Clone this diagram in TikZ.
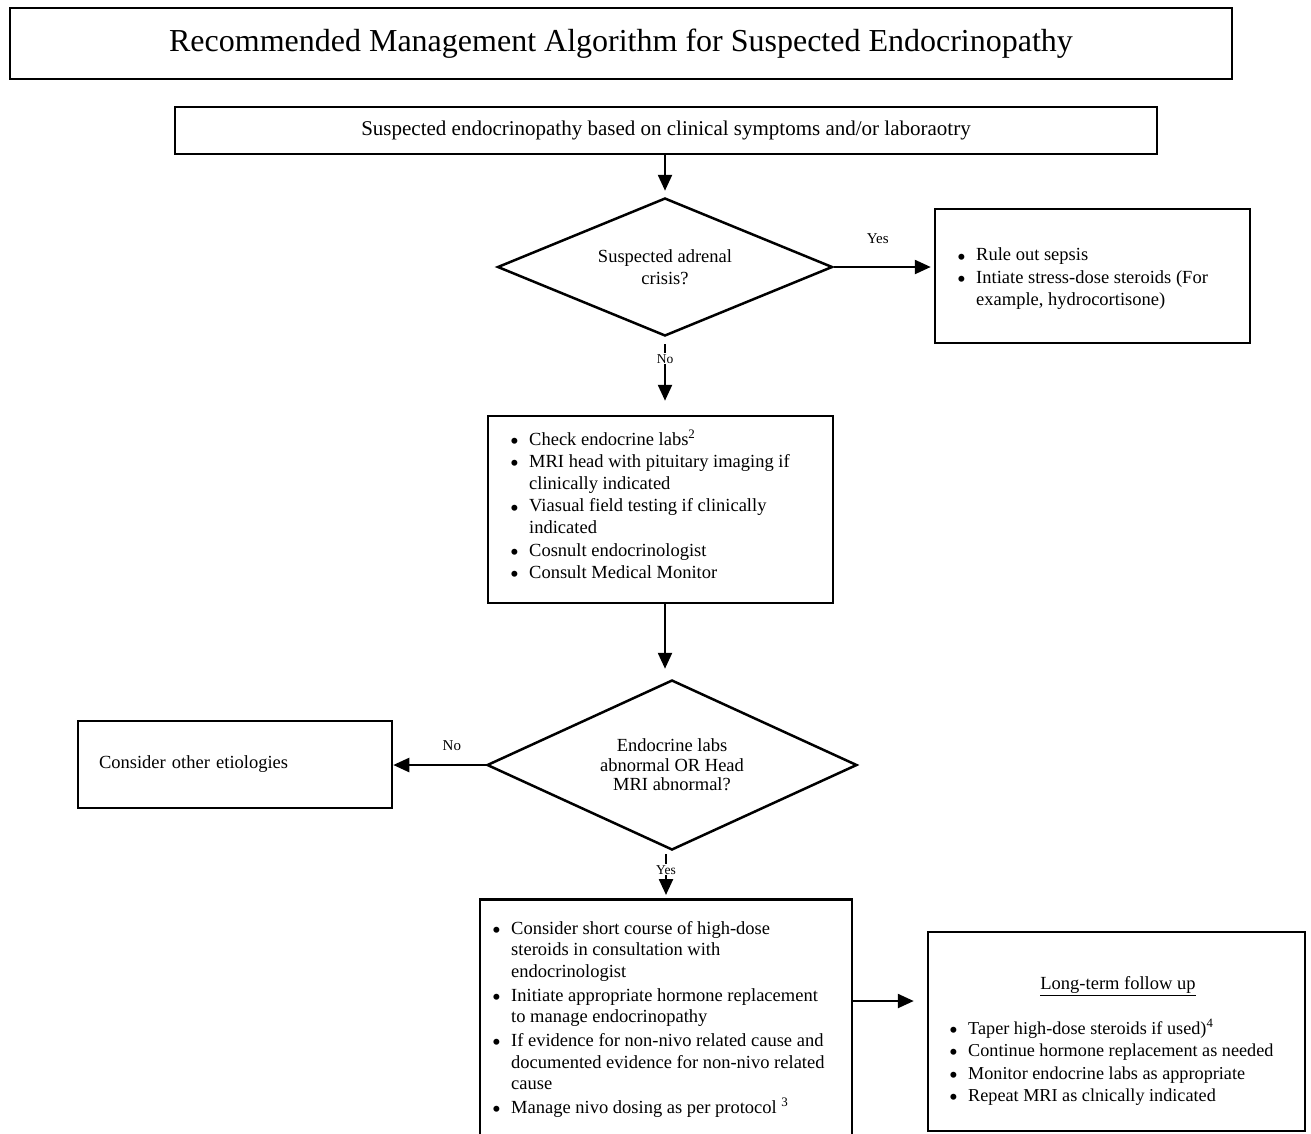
\documentclass[tikz,border=0pt]{standalone}
\usepackage{fontspec}
\setmainfont{Liberation Serif}
\usetikzlibrary{shapes.geometric,arrows.meta}
\newlength\bli
\setlength\bli{18pt}
\newcommand\bdot{\raisebox{-4.2pt}{\fontsize{25}{25}\selectfont\textbullet}}
\newcommand\bl[1]{\par\noindent\hangindent=\bli\hangafter=1\makebox[\bli][l]{\hspace*{-1pt}\bdot}#1}
\begin{document}
\begin{tikzpicture}[x=1pt,y=-1pt,
  frame/.style={draw, line width=2.5pt, inner sep=0pt},
  arr/.style={line width=2.4pt, -{Triangle[length=16pt,width=14pt]}},
  body/.style={font=\fontsize{18.5}{21.7}\selectfont},
  lab/.style={font=\fontsize{15}{18}\selectfont, inner sep=1pt},
  sublab/.style={font=\fontsize{13.5}{16}\selectfont, inner sep=1pt, fill=white},
  txt/.style={inner sep=0pt, anchor=base west}]

\useasboundingbox (0,0) rectangle (1311,1133);

% title and first box
\node[frame, minimum width=1222pt, minimum height=71pt, font=\fontsize{32}{38}\selectfont] (title) at (621,43.5) {Recommended Management Algorithm for Suspected Endocrinopathy};
\node[frame, minimum width=982pt, minimum height=47pt, font=\fontsize{21}{24}\selectfont] (start) at (666,130.5) {Suspected endocrinopathy based on clinical symptoms and/or laboraotry};

% first decision
\node[frame, diamond, shape aspect=2.43, minimum width=335pt, minimum height=138pt, align=center, body] (d1) at (665,267) {Suspected adrenal\\crisis?};

% yes box
\node[frame, minimum width=315pt, minimum height=134pt] (yes) at (1092.5,276) {};
\node[txt, body] (yest) at (958,260.8) {\parbox[t]{320pt}{\setlength\parskip{1pt}%
\bl{Rule out sepsis}%
\bl{Intiate stress-dose steroids (For\newline example, hydrocortisone)}}};

% box 2
\node[frame, minimum width=345pt, minimum height=187pt] (box2) at (660.5,509.5) {};
\node[txt, body] (box2t) at (511,445.2) {\parbox[t]{360pt}{\setlength\parskip{0.8pt}%
\bl{Check endocrine labs\textsuperscript{2}}%
\bl{MRI head with pituitary imaging if\newline clinically indicated}%
\bl{Viasual field testing if clinically\newline indicated}%
\bl{Cosnult endocrinologist}%
\bl{Consult Medical Monitor}}};

% second decision
\node[frame, diamond, shape aspect=2.18, minimum width=370pt, minimum height=170pt, align=center, font=\fontsize{18.5}{19.5}\selectfont] (d2) at (672,765) {Endocrine labs\\abnormal OR Head\\MRI abnormal?};

% consider other
\node[frame, minimum width=314pt, minimum height=87pt, text width=272pt, align=left, inner xsep=21pt, body] (other) at (235,764.5) {Consider other etiologies};

% box 3
\node[frame, minimum width=372pt, minimum height=262pt, anchor=north] (box3) at (666,898) {};
\node[txt, body] (box3t) at (493,934.2) {\parbox[t]{400pt}{\setlength\parskip{1.8pt}%
\bl{Consider short course of high-dose\newline steroids in consultation with\newline endocrinologist}%
\bl{Initiate appropriate hormone replacement\newline to manage endocrinopathy}%
\bl{If evidence for non-nivo related cause and\newline documented evidence for non-nivo related\newline cause}%
\bl{Manage nivo dosing as per protocol \textsuperscript{3}}}};

% box 4
\node[frame, minimum width=377pt, minimum height=199pt] (box4) at (1116.5,1031.5) {};
\node[body] (ltitle) at (1118,986) {\underline{Long-term follow up}};
\node[txt, font=\fontsize{18.2}{21.5}\selectfont] (box4t) at (950,1034) {\parbox[t]{360pt}{\setlength\parskip{1pt}%
\bl{Taper high-dose steroids if used)\textsuperscript{4}}%
\bl{Continue hormone replacement as needed}%
\bl{Monitor endocrine labs as appropriate}%
\bl{Repeat MRI as clnically indicated}}};

% connectors
\draw[arr, shorten >=6pt] (start.south -| d1.north) -- (d1.north);
\draw[arr, shorten >=3pt] (d1.east) -- node[lab, pos=0.44, yshift=28pt] (lyes1) {Yes} (d1.east -| yes.west);
\draw[arr, shorten <=7pt, shorten >=14pt] (d1.south) -- node[sublab, pos=0.28] (lno1) {No} (d1.south |- box2.north);
\draw[arr, shorten >=10pt] (box2.south -| d1.south) -- (d2.north -| d1.south);
\draw[arr] (d2.west) -- node[lab, pos=0.366, yshift=19pt] (lno2) {No} (d2.west -| other.east);
\draw[arr, shorten <=3pt, shorten >=3pt] (d2.south -| box3.north) -- node[sublab, pos=0.4] (lyes2) {Yes} (box3.north);
\coordinate (lvl) at (0,1001);
\draw[arr, shorten >=13pt] (box3.east |- lvl) -- (box4.west |- lvl);
\end{tikzpicture}
\end{document}
